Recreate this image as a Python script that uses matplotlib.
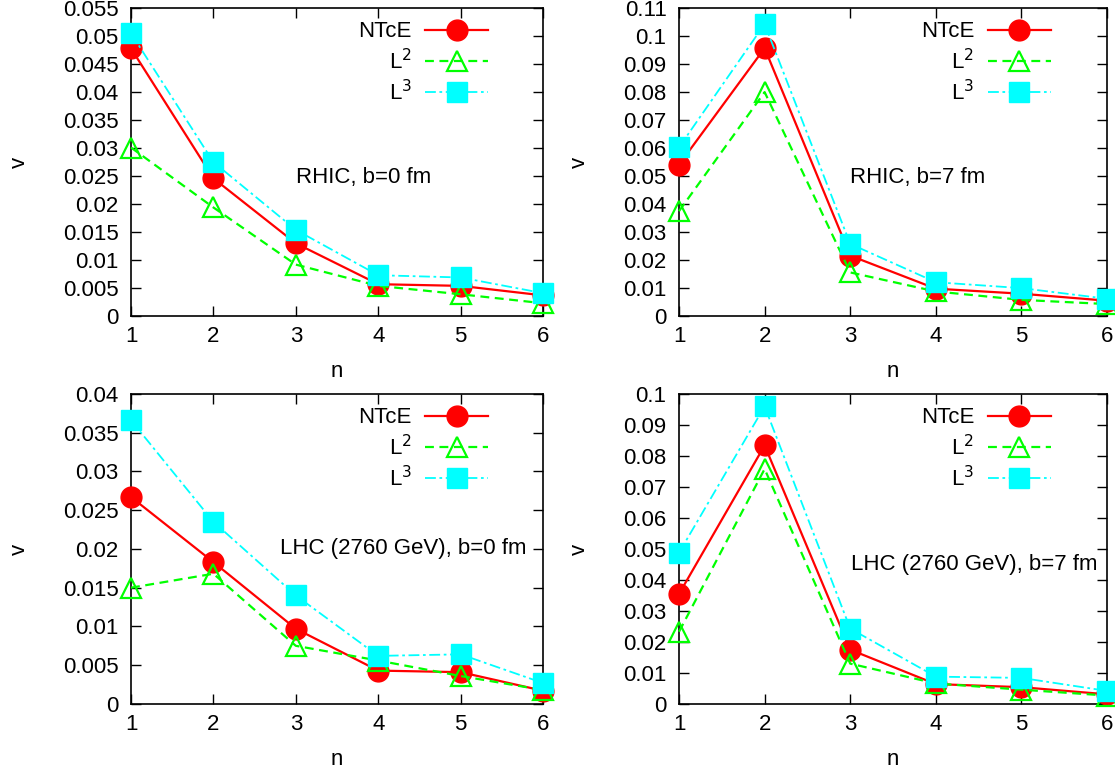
import matplotlib
matplotlib.use("Agg")
import matplotlib.pyplot as plt
import numpy as np

plt.rcParams['font.family'] = ['Liberation Sans', 'DejaVu Sans']
plt.rcParams['font.size'] = 16

n = [1, 2, 3, 4, 5, 6]

# RHIC, b=0 fm
rhic0_ntce = [0.0478, 0.0246, 0.0130, 0.0057, 0.0054, 0.0037]
rhic0_l2 = [0.0301, 0.0194, 0.0092, 0.0054, 0.0039, 0.0023]
rhic0_l3 = [0.0505, 0.0275, 0.0154, 0.0073, 0.0069, 0.0041]

# RHIC, b=7 fm
rhic7_ntce = [0.0541, 0.0957, 0.0216, 0.0098, 0.0080, 0.0055]
rhic7_l2 = [0.0375, 0.0800, 0.0156, 0.0088, 0.0058, 0.0043]
rhic7_l3 = [0.0603, 0.1043, 0.0258, 0.0121, 0.0100, 0.0062]

# LHC (2760 GeV), b=0 fm
lhc0_ntce = [0.0267, 0.0183, 0.0097, 0.0043, 0.0041, 0.0017]
lhc0_l2 = [0.0150, 0.0168, 0.0075, 0.0056, 0.0036, 0.0018]
lhc0_l3 = [0.0366, 0.0235, 0.0140, 0.0062, 0.0064, 0.0027]

# LHC (2760 GeV), b=7 fm
lhc7_ntce = [0.0355, 0.0834, 0.0175, 0.0064, 0.0054, 0.0031]
lhc7_l2 = [0.0233, 0.0758, 0.0130, 0.0066, 0.0046, 0.0027]
lhc7_l3 = [0.0488, 0.0960, 0.0243, 0.0088, 0.0084, 0.0042]

panels = [
    # rect, data, ymax, ystep, label, label x, label y
    ([0.1175, 0.590, 0.3695, 0.3995], (rhic0_ntce, rhic0_l2, rhic0_l3), 0.055, 0.005, 'RHIC, b=0 fm', 0.40, 0.45),
    ([0.609, 0.590, 0.3838, 0.3995], (rhic7_ntce, rhic7_l2, rhic7_l3), 0.11, 0.01, 'RHIC, b=7 fm', 0.40, 0.45),
    ([0.1175, 0.087, 0.3695, 0.402], (lhc0_ntce, lhc0_l2, lhc0_l3), 0.04, 0.005, 'LHC (2760 GeV), b=0 fm', 0.362, 0.503),
    ([0.609, 0.087, 0.3838, 0.402], (lhc7_ntce, lhc7_l2, lhc7_l3), 0.1, 0.01, 'LHC (2760 GeV), b=7 fm', 0.402, 0.45),
]

fig = plt.figure(figsize=(11.15, 7.71), dpi=100)

for rect, (ntce, l2, l3), ymax, ystep, label, tx, ty in panels:
    ax = fig.add_axes(rect)
    ax.plot(n, ntce, '-', color='#ff0000', lw=1.6, marker='o', ms=15,
            label='NTcE', clip_on=False, zorder=3)
    ax.plot(n, l2, '--', color='#00ff00', lw=1.6, marker='^', ms=15,
            mfc='none', mew=1.6, dashes=(4, 2.5), label='L$^2$', clip_on=False, zorder=4)
    ax.plot(n, l3, '-.', color='#00ffff', lw=1.3, marker='s', ms=15,
            label='L$^3$', clip_on=False, zorder=5, dashes=(6, 2, 1.5, 2))
    ax.set_xlim(1, 6)
    ax.set_ylim(0, ymax)
    ax.set_xticks(n)
    yt = np.round(np.arange(0, ymax + ystep / 2, ystep), 4)
    ax.set_yticks(yt)
    ax.set_yticklabels(['%g' % v for v in yt])
    ax.tick_params(direction='in', length=7, width=1, top=True, right=True, pad=7)
    ax.tick_params(axis='y', pad=9)
    for s in ax.spines.values():
        s.set_linewidth(1.2)
    ax.set_xlabel('n', labelpad=10)
    ax.set_ylabel('v', labelpad=24)
    ax.text(tx, ty, label, transform=ax.transAxes, ha='left', va='center')
    ax.legend(loc='upper right', bbox_to_anchor=(0.9, 1.0), frameon=False,
              markerfirst=False, handlelength=2.85, labelspacing=0.28,
              handletextpad=0.6, borderaxespad=0.2)

fig.savefig('out.png', dpi=100)
